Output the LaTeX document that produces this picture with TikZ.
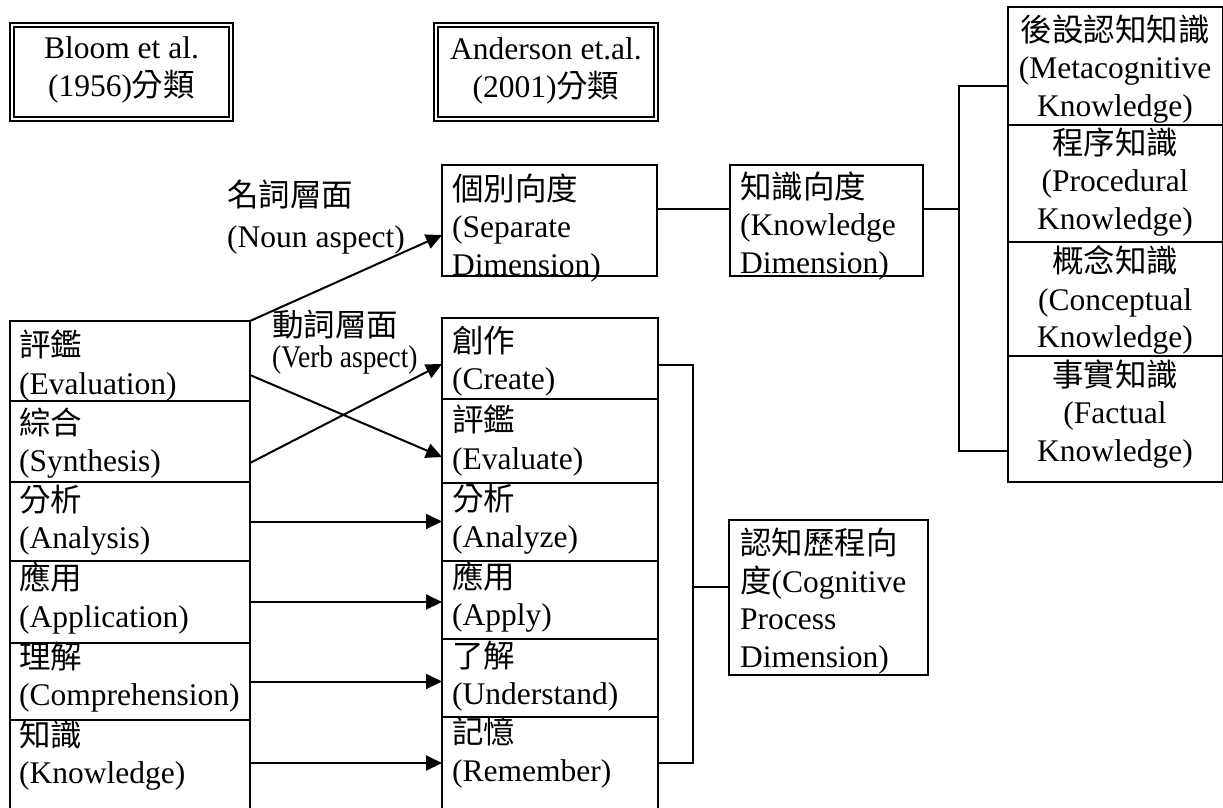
\documentclass[tikz,border=0pt]{standalone}
\usepackage{fontspec}
\usepackage{graphicx}
\setmainfont{Liberation Serif}
\newfontfamily\cjk{Noto Sans CJK TC}
\newcommand\zh[1]{{\cjk #1}}
\usetikzlibrary{arrows.meta,calc}
\begin{document}
\begin{tikzpicture}[x=1pt,y=-1pt,
  box/.style={draw,line width=1.6pt,inner sep=0,outer sep=0,anchor=north west},
  txt/.style={inner sep=0,font=\fontsize{31.5}{37.5}\selectfont,align=left},
  ctxt/.style={txt,align=center},
  arr/.style={line width=2pt,-{Triangle[length=16pt,width=15pt]}},
  link/.style={line width=1.5pt},
  frame/.style={line width=2.4pt}]
\useasboundingbox (0,0) rectangle (1223,807);
\fill[white] (0,0) rectangle (1223,807);

% title frames
\node[box,line width=1.2pt,minimum width=223,minimum height=98] (bloom) at (10,23) {};
\draw[frame] ($(bloom.north west)+(4,4)$) rectangle ($(bloom.south east)+(-4,-4)$);
\node[ctxt] (tbloom) at (121.5,70) {Bloom et al.\\(1956)\zh{分類}};
\node[box,line width=1.2pt,minimum width=224,minimum height=98] (ander) at (434,23) {};
\draw[frame] ($(ander.north west)+(4,4)$) rectangle ($(ander.south east)+(-4,-4)$);
\node[ctxt] (tander) at (546,71) {Anderson et.al.\\(2001)\zh{分類}};

% left column (Bloom)
\node[box,minimum width=240,minimum height=80] (Leva) at (10,321) {};
\node[box,minimum width=240,minimum height=81] (Lsyn) at (10,401) {};
\node[box,minimum width=240,minimum height=79] (Lana) at (10,482) {};
\node[box,minimum width=240,minimum height=82] (Lapp) at (10,561) {};
\node[box,minimum width=240,minimum height=77] (Lcom) at (10,643) {};
\node[box,minimum width=240,minimum height=100] (Lkno) at (10,720) {};
\node[txt,anchor=west] (tLeva) at (19,365.5) {\zh{評鑑}\\(Evaluation)};
\node[txt,anchor=west] (tLsyn) at (19,443) {\zh{綜合}\\(Synthesis)};
\node[txt,anchor=west] (tLana) at (19,520) {\zh{分析}\\(Analysis)};
\node[txt,anchor=west] (tLapp) at (19,598.5) {\zh{應用}\\(Application)};
\node[txt,anchor=west] (tLcom) at (19,677) {\zh{理解}\\(Comprehension)};
\node[txt,anchor=west] (tLkno) at (19,755) {\zh{知識}\\(Knowledge)};

% middle column (Anderson)
\node[box,minimum width=216,minimum height=81] (Mcre) at (442,318) {};
\node[box,minimum width=216,minimum height=84] (Meva) at (442,399) {};
\node[box,minimum width=216,minimum height=78] (Mana) at (442,483) {};
\node[box,minimum width=216,minimum height=78] (Mapp) at (442,561) {};
\node[box,minimum width=216,minimum height=78] (Mund) at (442,639) {};
\node[box,minimum width=216,minimum height=100] (Mrem) at (442,717) {};
\node[txt,anchor=west] (tMcre) at (452,361) {\zh{創作}\\(Create)};
\node[txt,anchor=west] (tMeva) at (452,440.5) {\zh{評鑑}\\(Evaluate)};
\node[txt,anchor=west] (tMana) at (452,519) {\zh{分析}\\(Analyze)};
\node[txt,anchor=west] (tMapp) at (452,597) {\zh{應用}\\(Apply)};
\node[txt,anchor=west] (tMund) at (452,676) {\zh{了解}\\(Understand)};
\node[txt,anchor=west] (tMrem) at (452,752.5) {\zh{記憶}\\(Remember)};

% separate / knowledge dimension
\node[box,minimum width=215,minimum height=111] (Msep) at (442,165) {};
\node[txt,anchor=west] (tMsep) at (452,228) {\zh{個別向度}\\(Separate\\Dimension)};
\node[box,minimum width=193,minimum height=111] (Kdim) at (730,165) {};
\node[txt,anchor=west] (tKdim) at (740,226) {\zh{知識向度}\\(Knowledge\\Dimension)};

% right column
\node[box,minimum width=215,minimum height=118] (R1) at (1008,7) {};
\node[box,minimum width=215,minimum height=117] (R2) at (1008,125) {};
\node[box,minimum width=215,minimum height=114] (R3) at (1008,242) {};
\node[box,minimum width=215,minimum height=126] (R4) at (1008,356) {};
\node[ctxt] (tR1) at (1115,69) {\zh{後設認知知識}\\(Metacognitive\\Knowledge)};
\node[ctxt] (tR2) at (1115,182) {\zh{程序知識}\\(Procedural\\Knowledge)};
\node[ctxt] (tR3) at (1115,300) {\zh{概念知識}\\(Conceptual\\Knowledge)};
\node[ctxt] (tR4) at (1115,414) {\zh{事實知識}\\(Factual\\Knowledge)};

% cognitive process dimension
\node[box,minimum width=199,minimum height=155] (Cog) at (729,520) {};
\node[txt,anchor=west] (tCog) at (740,601) {\zh{認知歷程向}\\\zh{度}(Cognitive\\Process\\Dimension)};

% labels
\node[txt,anchor=west,font=\fontsize{31.5}{41}\selectfont] (noun) at (227,217) {\zh{名詞層面}\\(Noun aspect)};
\node[txt,anchor=west] (verb) at (272,342) {\zh{動詞層面}\\[-6pt]\scalebox{0.87}[1]{(Verb aspect)}};

% connectors
\draw[arr] (Leva.north east) -- ($(Msep.north west)+(0,70)$);
\draw[arr] ($(Leva.north east)+(0,54)$) -- ($(Meva.north west)+(0,58)$);
\draw[arr] ($(Lsyn.north east)+(0,62)$) -- ($(Mcre.north west)+(0,46)$);
\draw[arr] (Lana.east) -- (Lana.east -| Mana.west);
\draw[arr] (Lapp.east) -- (Lapp.east -| Mapp.west);
\draw[arr] (Lcom.east) -- (Lcom.east -| Mund.west);
\draw[arr] ($(Lkno.north east)+(0,43)$) -- ($(Mrem.north west)+(0,46)$);

\draw[link] ($(Msep.north east)+(0,44)$) -- ($(Kdim.north west)+(0,44)$);
\coordinate (kv) at (959,209);
\draw[link] ($(Kdim.north east)+(0,44)$) -- (kv);
\draw[link] ($(R1.north west)+(0,79)$) -- ++(-49,0) |- ($(R4.north west)+(0,95)$);

\draw[link] ($(Mcre.north east)+(0,47)$) -- ++(35,0) |- ($(Mrem.north east)+(0,46)$);
\draw[link] ($(Cog.north west)+(0,67)$) -- ++(-36,0);
\end{tikzpicture}
\end{document}
